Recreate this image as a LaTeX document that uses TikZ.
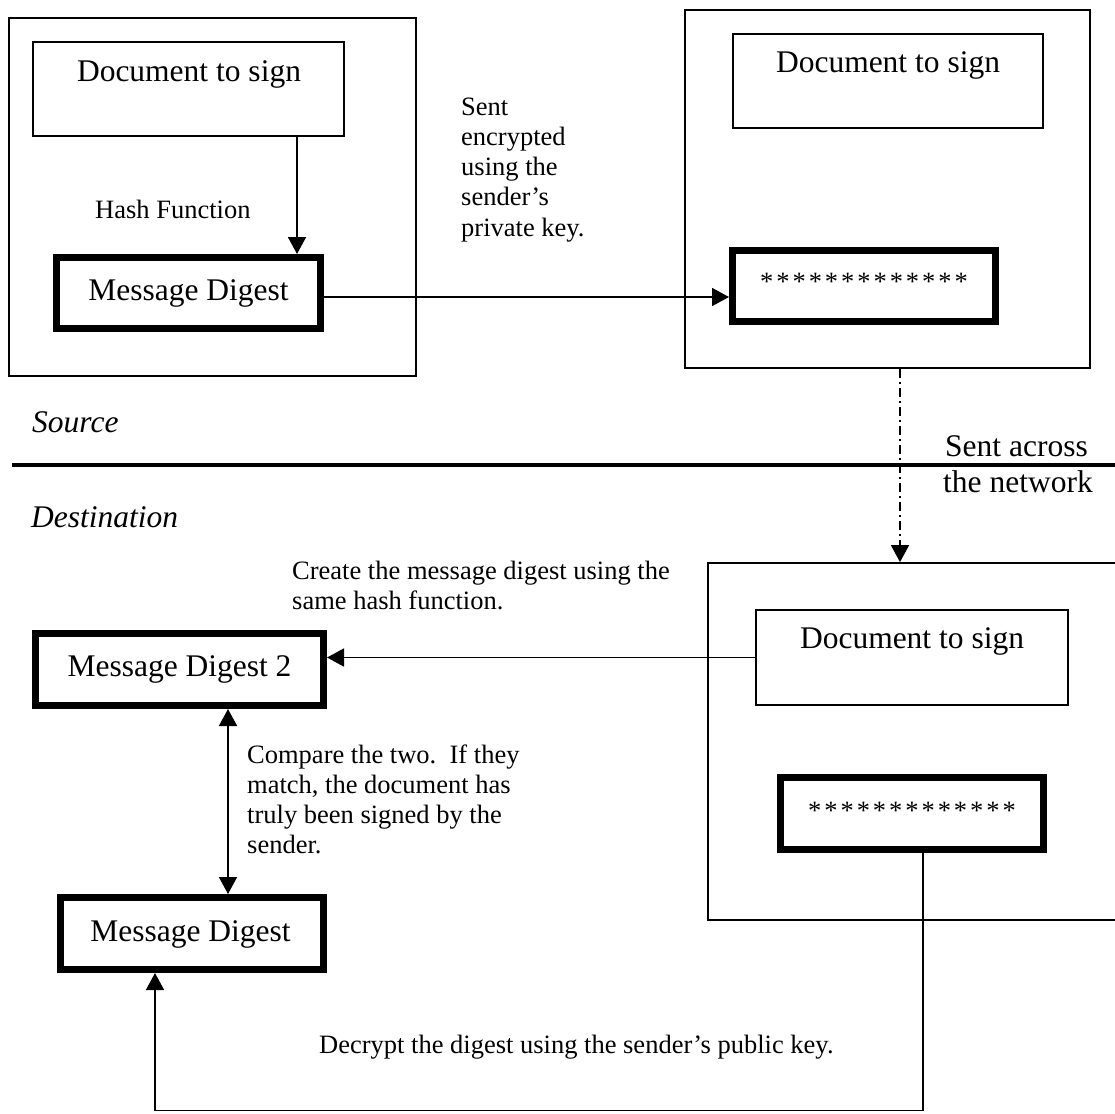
\documentclass[tikz,border=0pt]{standalone}
\usepackage{fontspec}
\setmainfont{Liberation Serif}
\usetikzlibrary{arrows.meta}
\newcommand{\starrow}{\foreach \k in {1,...,13}{\makebox[16.2pt]{*}}}
\begin{document}
\begin{tikzpicture}[x=1pt,y=-1pt,
  thinbox/.style={draw, line width=1.8pt, inner sep=0pt},
  thickbox/.style={draw, line width=7pt, inner sep=0pt},
  big/.style={inner sep=0pt, font=\fontsize{31.5}{32}\selectfont},
  small/.style={inner sep=0pt, font=\fontsize{26.5}{30.3}\selectfont},
  conn/.style={line width=1.6pt, -{Triangle[length=17pt,width=18pt]}},
  conn2/.style={line width=1.6pt, {Triangle[length=17pt,width=18pt]}-{Triangle[length=17pt,width=18pt]}},
  dashdot/.style={dash pattern=on 9pt off 4pt on 2pt off 4pt}]
\useasboundingbox (0,0) rectangle (1115,1113);
\clip (0,0) rectangle (1115,1113);
\fill[white] (0,0) rectangle (1115,1113);

% boxes
\node[thinbox, minimum width=407pt, minimum height=358pt] (box1) at (212.5,197) {};
\node[thinbox, minimum width=311pt, minimum height=94pt] (doc1) at (188.5,89) {};
\node[thickbox, minimum width=264pt, minimum height=71pt] (md1) at (188.5,293) {};
\node[thinbox, minimum width=405pt, minimum height=358pt] (box2) at (887.5,189) {};
\node[thinbox, minimum width=310pt, minimum height=94pt] (doc2) at (888,81) {};
\node[thickbox, minimum width=263pt, minimum height=71pt] (enc1) at (864,286) {};
\node[thinbox, minimum width=700pt, minimum height=357pt, anchor=west] (box3) at (706.9,741.5) {};
\node[thinbox, minimum width=312pt, minimum height=95pt] (doc3) at (912,657.5) {};
\node[thickbox, minimum width=263pt, minimum height=72pt] (enc2) at (912,813.5) {};
\node[thickbox, minimum width=288pt, minimum height=72pt] (md2) at (179.5,669.5) {};
\node[thickbox, minimum width=263pt, minimum height=72pt] (md3) at (192,933.5) {};

% texts in boxes
\node[big, anchor=base] (tdoc1) at (189,82) {Document to sign};
\node[big, anchor=base] (tdoc2) at (888,73) {Document to sign};
\node[big, anchor=base] (tdoc3) at (912,648) {Document to sign};
\node[big, anchor=base] (tmd1) at (188.5,300) {Message Digest};
\node[big, anchor=base] (tmd2) at (179.5,676) {Message Digest 2};
\node[big, anchor=base] (tmd3) at (190.5,941) {Message Digest};
\node[small, anchor=base] (tenc1) at (864,290) {\starrow};
\node[small, anchor=base] (tenc2) at (912,819) {\starrow};

% free texts
\node[small, anchor=base west] (hash) at (95,218) {Hash Function};
\node[small, anchor=base west] (sent) at (461,115) {\begin{tabular}[t]{@{}l@{}}Sent\\encrypted\\using the\\sender’s\\private key.\end{tabular}};
\node[big, anchor=base west] (source) at (32,432) {\itshape Source};
\node[big, anchor=base west] (dest) at (31,527) {\itshape Destination};
\node[big, anchor=base west] (across1) at (945,456) {Sent across};
\node[big, anchor=base west] (across2) at (943,492) {the network};
\node[small, anchor=base west] (create) at (292,579) {\begin{tabular}[t]{@{}l@{}}Create the message digest using the\\same hash function.\end{tabular}};
\node[small, anchor=base west] (compare) at (247,763) {\begin{tabular}[t]{@{}l@{}}Compare the two.\ \ If they\\match, the document has\\truly been signed by the\\sender.\end{tabular}};
\node[small, anchor=base west] (decrypt) at (319,1053) {Decrypt the digest using the sender’s public key.};

% separator
\coordinate (sepL) at (12,465);
\coordinate (sepR) at (1115,465);
\draw[line width=3.3pt] (sepL) -- (sepR);

% connectors
\coordinate (a1) at (297,0);
\draw[conn] (doc1.south -| a1) -- (md1.north -| a1);
\coordinate (a2) at (0,297);
\draw[conn] (md1.east |- a2) -- (enc1.west |- a2);
\coordinate (a3) at (900,0);
\draw[conn, dashdot] (box2.south -| a3) -- (box3.north -| a3);
\draw[conn] (doc3.west) -- (doc3.west -| md2.east);
\coordinate (a4) at (228,0);
\draw[conn2] (md2.south -| a4) -- (md3.north -| a4);
\coordinate (a5) at (923,0);
\coordinate (a6) at (155,1110.5);
\draw[conn] (enc2.south -| a5) |- (a6) -- (md3.south -| a6);
\end{tikzpicture}
\end{document}
